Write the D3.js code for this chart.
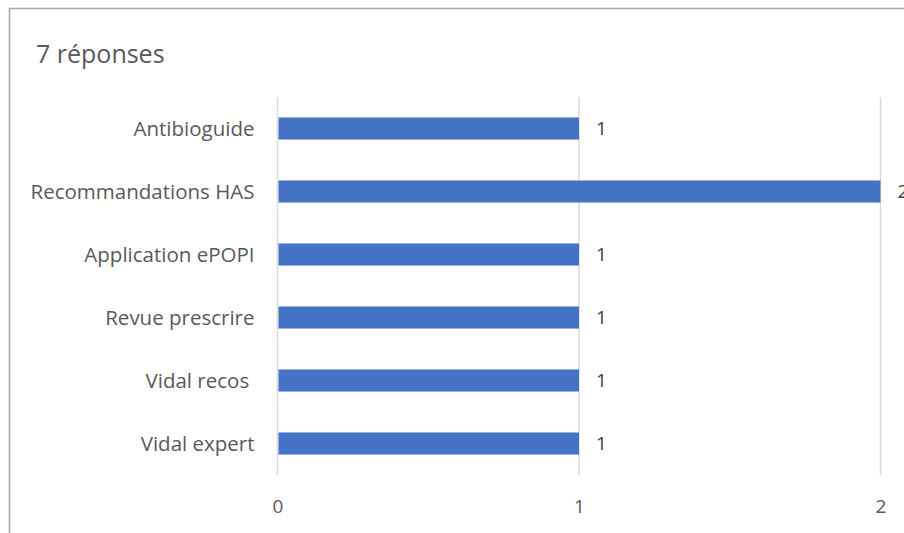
<!DOCTYPE html>
<html><head><meta charset="utf-8">
<script src="https://cdn.jsdelivr.net/npm/d3@7"></script>
<style>body{margin:0;background:#fff}svg{display:block}</style>
</head><body>
<script>
const categories = ["Antibioguide","Recommandations HAS","Application ePOPI","Revue prescrire","Vidal recos ","Vidal expert"];
const values = [1,2,1,1,1,1];
const tickValues = [0,1,2];
const title = "7 réponses";

const W=904,H=533;
const svg=d3.select("body").append("svg").attr("width",W).attr("height",H);
const font="'Open Sans', sans-serif";
svg.append("rect").attr("x",9.5).attr("y",8.5).attr("width",W+20).attr("height",H+20)
  .attr("fill","#fff").attr("stroke","#a6a6a6").attr("stroke-width",1.5);
svg.append("text").attr("x",36).attr("y",63).text(title)
  .attr("font-family",font).attr("font-size",25).attr("fill","#595959");

const x=d3.scaleLinear().domain([0,2]).range([277.5,880.5]);
const y=d3.scaleBand().domain(categories).range([97,475]).paddingInner(0.65).paddingOuter(0.325);

const g=svg.append("g");
g.selectAll("line.grid").data(tickValues).join("line").attr("class","grid")
  .attr("x1",d=>x(d)).attr("x2",d=>x(d)).attr("y1",97).attr("y2",475)
  .attr("stroke","#d9d9d9").attr("stroke-width",1.5);
g.selectAll("rect.bar").data(values).join("rect").attr("class","bar")
  .attr("x",x(0)+1).attr("y",(d,i)=>y(categories[i]))
  .attr("width",d=>x(d)-x(0)-1).attr("height",y.bandwidth()).attr("fill","#4472c4");
g.selectAll("text.val").data(values).join("text").attr("class","val")
  .attr("x",d=>x(d)+17).attr("y",(d,i)=>y(categories[i])+y.bandwidth()/2).attr("dy","0.36em")
  .text(d=>d).attr("font-family",font).attr("font-size",19).attr("fill","#404040");

const ya=d3.axisLeft(y).tickSize(0).tickPadding(23);
const yg=svg.append("g").attr("transform",`translate(${x(0)},0)`).call(ya);
yg.select(".domain").remove();
yg.selectAll("text").attr("font-family",font).attr("font-size",20.5).attr("fill","#595959")
  .attr("dy","0.36em").style("white-space","pre");

const xa=d3.axisBottom(x).tickValues(tickValues).tickSize(0).tickPadding(25).tickFormat(d3.format("d"));
const xg=svg.append("g").attr("transform","translate(0,475)").call(xa);
xg.select(".domain").remove();
xg.selectAll("text").attr("font-family",font).attr("font-size",19).attr("fill","#595959");
</script>
</body></html>
